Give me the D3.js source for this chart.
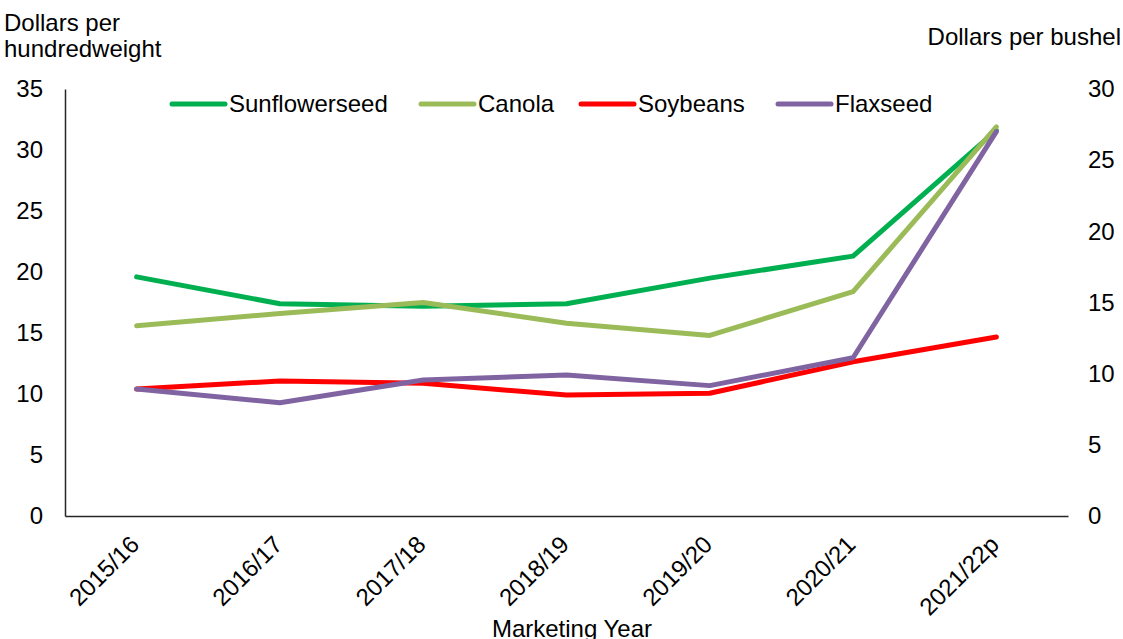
<!DOCTYPE html>
<html><head><meta charset="utf-8">
<script src="https://cdn.jsdelivr.net/npm/d3@7"></script>
<style>
html,body{margin:0;padding:0;background:#fff;}
svg{display:block;font-family:"Liberation Sans",Arial,sans-serif;}
</style></head>
<body><svg id="c" width="1123" height="639"></svg>
<script>
const categories = ["2015/16","2016/17","2017/18","2018/19","2019/20","2020/21","2021/22p"];
const sunflowerseed = [19.6, 17.4, 17.2, 17.4, 19.5, 21.3, 31.6]; // $/cwt, left axis
const canola        = [15.6, 16.6, 17.5, 15.8, 14.8, 18.4, 31.9]; // $/cwt, left axis
const soybeans      = [8.92, 9.49, 9.32, 8.50, 8.62, 10.84, 12.58]; // $/bu, right axis
const flaxseed      = [8.92, 7.96, 9.56, 9.91, 9.16, 11.12, 27.0]; // $/bu, right axis
const leftTicks = [0,5,10,15,20,25,30,35];
const rightTicks = [0,5,10,15,20,25,30];
const series = [
  {name:"Sunflowerseed", values:sunflowerseed, axis:"left", color:"#00B050"},
  {name:"Canola", values:canola, axis:"left", color:"#9BBB59"},
  {name:"Soybeans", values:soybeans, axis:"right", color:"#FF0000"},
  {name:"Flaxseed", values:flaxseed, axis:"right", color:"#8064A2"}
];

const svg = d3.select("#c");
const L = 65, R = 1068, T = 89, B = 516;
const x = d3.scaleBand().domain(categories).range([L, R]);
const yL = d3.scaleLinear().domain([0,35]).range([B, T]);
const yR = d3.scaleLinear().domain([0,30]).range([B, T]);
const fs = 24;
const ff = "Liberation Sans, Arial, sans-serif";

// left axis
const gl = svg.append("g").attr("transform",`translate(${L},0)`)
  .call(d3.axisLeft(yL).tickValues(leftTicks).tickSize(0).tickPadding(22));
gl.select(".domain").attr("stroke","#262626").attr("stroke-width",1.5);
gl.selectAll("text").attr("font-size",fs).attr("fill","#000").attr("font-family",ff);

// right axis
const gr = svg.append("g").attr("transform",`translate(${R},0)`)
  .call(d3.axisRight(yR).tickValues(rightTicks).tickSize(0).tickPadding(20));
gr.select(".domain").remove();
gr.selectAll("text").attr("font-size",fs).attr("fill","#000").attr("font-family",ff);

// bottom axis
const gb = svg.append("g").attr("transform",`translate(0,${B})`)
  .call(d3.axisBottom(x).tickSize(0).tickFormat(""));
gb.select(".domain").attr("stroke","#262626").attr("stroke-width",1.5);
svg.append("g").selectAll("text").data(categories).join("text")
  .attr("transform", d => `translate(${x(d)+x.bandwidth()/2+4},${B+30}) rotate(-45)`)
  .attr("text-anchor","end")
  .attr("font-size",fs).attr("fill","#000")
  .text(d => d);

// lines
series.forEach(s => {
  const ys = s.axis === "left" ? yL : yR;
  const line = d3.line()
    .x((v,i) => x(categories[i]) + x.bandwidth()/2)
    .y(v => ys(v));
  svg.append("path").datum(s.values)
    .attr("d", line).attr("fill","none")
    .attr("stroke", s.color).attr("stroke-width",5)
    .attr("stroke-linejoin","round").attr("stroke-linecap","round");
});

// legend
const legendX = [172, 421, 581, 778];
const lg = svg.append("g");
series.forEach((s,i) => {
  lg.append("line").attr("x1",legendX[i]).attr("x2",legendX[i]+53)
    .attr("y1",104).attr("y2",104)
    .attr("stroke",s.color).attr("stroke-width",5).attr("stroke-linecap","round");
  lg.append("text").attr("x",legendX[i]+57).attr("y",112)
    .attr("font-size",fs).attr("fill","#000").text(s.name);
});

// axis titles
svg.append("text").attr("x",4).attr("y",31).attr("font-size",fs).text("Dollars per");
svg.append("text").attr("x",4).attr("y",57).attr("font-size",fs).text("hundredweight");
svg.append("text").attr("x",1121).attr("y",45).attr("text-anchor","end").attr("font-size",fs).text("Dollars per bushel");
svg.append("text").attr("x",572).attr("y",637).attr("text-anchor","middle").attr("font-size",fs).text("Marketing Year");
</script></body></html>
